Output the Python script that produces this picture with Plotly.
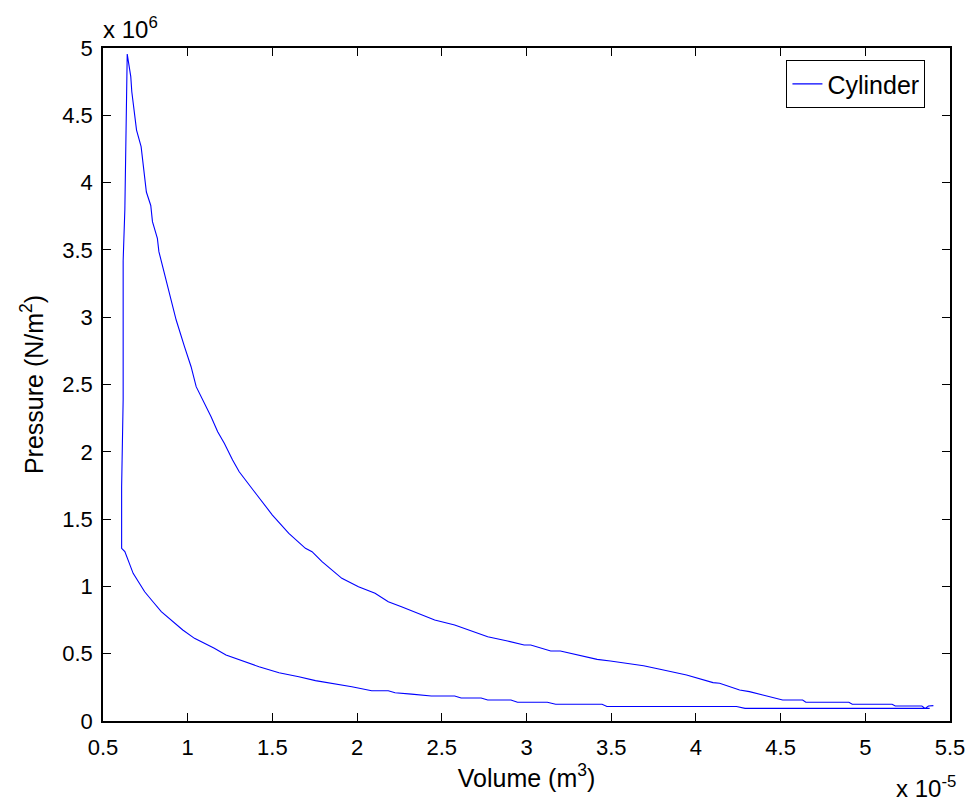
import plotly.graph_objects as go

# Cylinder P-V loop. Volume in units of 1e-5 m^3, pressure in units of 1e6 N/m^2.
# Compression stroke (right to left), rise at TDC, then expansion stroke (left to right).
volume = [
    5.38, 4.29, 4.24, 3.82, 3.475, 3.446, 3.172, 3.123, 2.947, 2.908, 2.771, 2.732,
    2.614, 2.576, 2.438, 2.321, 2.224, 2.184, 2.086, 1.969, 1.852, 1.754, 1.656,
    1.597, 1.539, 1.421, 1.343, 1.226, 1.157, 1.040, 0.971, 0.913, 0.844, 0.795,
    0.746, 0.678, 0.654, 0.629, 0.610,
    0.610, 0.619, 0.619, 0.629, 0.633, 0.643,
    0.664, 0.670, 0.698, 0.725, 0.756, 0.782, 0.792, 0.821, 0.830, 0.874, 0.932,
    0.981, 1.020, 1.050, 1.089, 1.138, 1.177, 1.216, 1.265, 1.304, 1.402, 1.500,
    1.597, 1.695, 1.734, 1.793, 1.910, 2.008, 2.106, 2.184, 2.262, 2.380, 2.458,
    2.576, 2.654, 2.771, 2.888, 2.986, 3.025, 3.143, 3.200, 3.299, 3.417, 3.495,
    3.612, 3.691, 3.788, 3.945, 4.101, 4.140, 4.258, 4.316, 4.395, 4.473, 4.512,
    4.630, 4.649, 4.903, 4.923, 5.158, 5.177, 5.334, 5.353, 5.373, 5.402,
]
pressure = [
    0.094, 0.094, 0.108, 0.108, 0.108, 0.124, 0.124, 0.139, 0.139, 0.156, 0.156, 0.171,
    0.171, 0.186, 0.186, 0.200, 0.210, 0.225, 0.225, 0.255, 0.280, 0.300, 0.329,
    0.342, 0.359, 0.403, 0.440, 0.490, 0.540, 0.614, 0.676, 0.738, 0.812, 0.886,
    0.960, 1.097, 1.170, 1.258, 1.283,
    1.740, 2.390, 3.420, 3.800, 4.270, 4.955,
    4.787, 4.675, 4.390, 4.267, 3.930, 3.830, 3.710, 3.586, 3.487, 3.276, 2.979,
    2.781, 2.632, 2.484, 2.385, 2.260, 2.149, 2.063, 1.939, 1.852, 1.690, 1.530,
    1.394, 1.283, 1.258, 1.184, 1.060, 0.998, 0.949, 0.886, 0.849, 0.788, 0.750,
    0.713, 0.676, 0.626, 0.594, 0.565, 0.565, 0.520, 0.520, 0.490, 0.458, 0.446,
    0.428, 0.411, 0.384, 0.342, 0.285, 0.280, 0.230, 0.218, 0.193, 0.168, 0.156,
    0.156, 0.139, 0.139, 0.124, 0.124, 0.111, 0.111, 0.094, 0.111, 0.114,
]

x_ticks = [0.5, 1, 1.5, 2, 2.5, 3, 3.5, 4, 4.5, 5, 5.5]
x_tick_text = ["0.5", "1", "1.5", "2", "2.5", "3", "3.5", "4", "4.5", "5", "5.5"]
y_ticks = [0, 0.5, 1, 1.5, 2, 2.5, 3, 3.5, 4, 4.5, 5]
y_tick_text = ["0", "0.5", "1", "1.5", "2", "2.5", "3", "3.5", "4", "4.5", "5"]

FONT = "Liberation Sans, Arial, Helvetica, sans-serif"
TICK_FS = 22
LABEL_FS = 25

axis_common = dict(
    showgrid=False, zeroline=False, showline=True, linecolor="black", linewidth=1.5,
    mirror="ticks", ticks="inside", ticklen=8, tickwidth=1, tickcolor="black",
    tickfont=dict(family=FONT, size=TICK_FS, color="black"),
)

fig = go.Figure()
fig.add_trace(go.Scatter(
    x=volume, y=pressure, mode="lines", name="Cylinder",
    line=dict(color="#0000ff", width=1.1),
))

fig.update_layout(
    width=977, height=803,
    margin=dict(l=103, r=22, t=48, b=82),
    paper_bgcolor="white", plot_bgcolor="white",
    font=dict(family=FONT, size=TICK_FS, color="black"),
    xaxis=dict(range=[0.5, 5.5], tickvals=x_ticks, ticktext=x_tick_text,
               ticklabelstandoff=6,
               title=dict(text="Volume (m<sup>3</sup>)", font=dict(size=LABEL_FS), standoff=6),
               **axis_common),
    yaxis=dict(range=[0, 5], tickvals=y_ticks, ticktext=y_tick_text,
               ticklabelstandoff=4,
               title=dict(text="Pressure (N/m<sup>2</sup>)", font=dict(size=LABEL_FS), standoff=12),
               **axis_common),
    showlegend=True,
    legend=dict(x=0.971, y=0.982, xanchor="right", yanchor="top",
                bgcolor="white", bordercolor="black", borderwidth=1,
                font=dict(family=FONT, size=LABEL_FS, color="black")),
    annotations=[
        dict(text="x 10<sup>6</sup>", xref="paper", yref="paper", x=0, y=1,
             xanchor="left", yanchor="bottom", yshift=3, xshift=-2, showarrow=False,
             font=dict(family=FONT, size=24, color="black")),
        dict(text="x 10<sup>-5</sup>", xref="paper", yref="paper", x=1, y=0,
             xanchor="right", yanchor="top", yshift=-49, xshift=8, showarrow=False,
             font=dict(family=FONT, size=24, color="black")),
    ],
)

fig.write_html("out.html")
